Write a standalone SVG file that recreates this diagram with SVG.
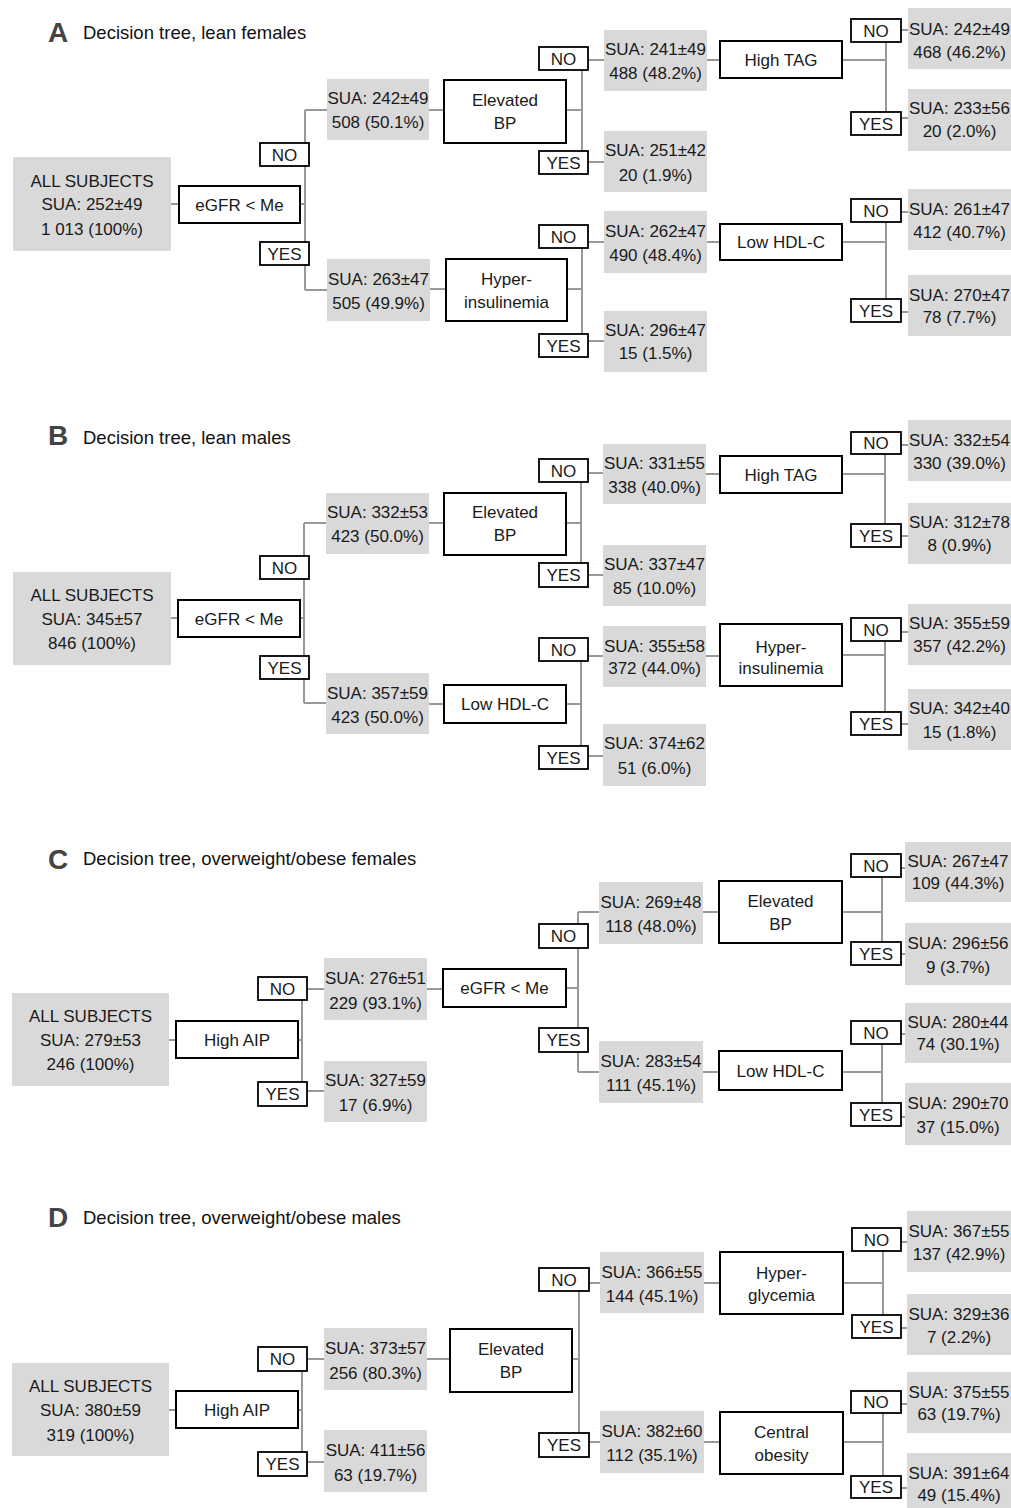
<svg xmlns="http://www.w3.org/2000/svg" width="1011" height="1508" viewBox="0 0 1011 1508">
<style>
.bg{fill:#fff}
.sua{fill:#d9d9d9}
.box{fill:#fff;stroke:#000;stroke-width:2}
.lbl{fill:#fff;stroke:#000;stroke-width:1.8}
.c line{stroke:#999;stroke-width:2;fill:none}
text{font-family:"Liberation Sans",Arial,sans-serif;font-size:17px;fill:#1a1a1a;text-anchor:middle}
.ttl{text-anchor:start;font-size:18.5px;fill:#111}
.let{text-anchor:start;font-size:28px;font-weight:bold;fill:#444}
</style>
<rect class="bg" x="0" y="0" width="1011" height="1508"/>

<!-- connectors -->
<g class="c" id="connectors">
<!-- A -->
<line x1="171" y1="204" x2="179" y2="204"/><line x1="300" y1="204" x2="305" y2="204"/>
<line x1="305" y1="110" x2="305" y2="290"/><line x1="305" y1="110" x2="327" y2="110"/><line x1="305" y1="290" x2="327" y2="290"/>
<line x1="429" y1="110" x2="444" y2="110"/><line x1="566" y1="110" x2="582" y2="110"/>
<line x1="582" y1="60" x2="582" y2="162"/><line x1="582" y1="60" x2="604" y2="60"/><line x1="582" y1="162" x2="604" y2="162"/>
<line x1="707" y1="60" x2="720" y2="60"/><line x1="842" y1="60" x2="886" y2="60"/>
<line x1="886" y1="30" x2="886" y2="118"/><line x1="886" y1="30" x2="908" y2="30"/><line x1="886" y1="118" x2="908" y2="118"/>
<line x1="430" y1="289" x2="446" y2="289"/><line x1="567" y1="289" x2="582" y2="289"/>
<line x1="582" y1="242" x2="582" y2="341"/><line x1="582" y1="242" x2="604" y2="242"/><line x1="582" y1="341" x2="604" y2="341"/>
<line x1="707" y1="242" x2="720" y2="242"/><line x1="842" y1="242" x2="886" y2="242"/>
<line x1="886" y1="212" x2="886" y2="312"/><line x1="886" y1="212" x2="908" y2="212"/><line x1="886" y1="312" x2="908" y2="312"/>
<!-- B -->
<line x1="171" y1="618" x2="178" y2="618"/><line x1="300" y1="618" x2="304" y2="618"/>
<line x1="304" y1="523" x2="304" y2="703"/><line x1="304" y1="523" x2="326" y2="523"/><line x1="304" y1="703" x2="326" y2="703"/>
<line x1="429" y1="523" x2="444" y2="523"/><line x1="566" y1="523" x2="581" y2="523"/>
<line x1="581" y1="473" x2="581" y2="575"/><line x1="581" y1="473" x2="603" y2="473"/><line x1="581" y1="575" x2="603" y2="575"/>
<line x1="706" y1="474" x2="720" y2="474"/><line x1="842" y1="474" x2="885" y2="474"/>
<line x1="885" y1="445" x2="885" y2="536"/><line x1="885" y1="445" x2="908" y2="445"/><line x1="885" y1="536" x2="908" y2="536"/>
<line x1="429" y1="704" x2="444" y2="704"/><line x1="566" y1="704" x2="581" y2="704"/>
<line x1="581" y1="656" x2="581" y2="756"/><line x1="581" y1="656" x2="603" y2="656"/><line x1="581" y1="756" x2="603" y2="756"/>
<line x1="706" y1="656" x2="720" y2="656"/><line x1="842" y1="655" x2="885" y2="655"/>
<line x1="885" y1="632" x2="885" y2="724"/><line x1="885" y1="632" x2="908" y2="632"/><line x1="885" y1="724" x2="908" y2="724"/>
<!-- C -->
<line x1="169" y1="1040" x2="176" y2="1040"/><line x1="298" y1="1040" x2="302" y2="1040"/>
<line x1="302" y1="989" x2="302" y2="1091"/><line x1="302" y1="989" x2="324" y2="989"/><line x1="302" y1="1091" x2="324" y2="1091"/>
<line x1="427" y1="989" x2="443" y2="989"/><line x1="566" y1="988" x2="578" y2="988"/>
<line x1="578" y1="912" x2="578" y2="1072"/><line x1="578" y1="912" x2="599" y2="912"/><line x1="578" y1="1072" x2="599" y2="1072"/>
<line x1="703" y1="912" x2="719" y2="912"/><line x1="703" y1="1072" x2="719" y2="1072"/>
<line x1="842" y1="912" x2="882" y2="912"/><line x1="882" y1="868" x2="882" y2="954"/><line x1="882" y1="868" x2="905" y2="868"/><line x1="882" y1="954" x2="905" y2="954"/>
<line x1="842" y1="1072" x2="882" y2="1072"/><line x1="882" y1="1034" x2="882" y2="1117"/><line x1="882" y1="1034" x2="905" y2="1034"/><line x1="882" y1="1117" x2="905" y2="1117"/>
<!-- D -->
<line x1="169" y1="1410" x2="176" y2="1410"/><line x1="298" y1="1410" x2="302" y2="1410"/>
<line x1="302" y1="1359" x2="302" y2="1462"/><line x1="302" y1="1359" x2="324" y2="1359"/><line x1="302" y1="1462" x2="324" y2="1462"/>
<line x1="427" y1="1359" x2="450" y2="1359"/><line x1="572" y1="1359" x2="579" y2="1359"/>
<line x1="579" y1="1283" x2="579" y2="1442"/><line x1="579" y1="1283" x2="600" y2="1283"/><line x1="579" y1="1442" x2="600" y2="1442"/>
<line x1="704" y1="1283" x2="720" y2="1283"/><line x1="704" y1="1442" x2="720" y2="1442"/>
<line x1="843" y1="1283" x2="883" y2="1283"/><line x1="883" y1="1242" x2="883" y2="1328"/><line x1="883" y1="1242" x2="907" y2="1242"/><line x1="883" y1="1328" x2="907" y2="1328"/>
<line x1="843" y1="1442" x2="883" y2="1442"/><line x1="883" y1="1404" x2="883" y2="1488"/><line x1="883" y1="1404" x2="907" y2="1404"/><line x1="883" y1="1488" x2="907" y2="1488"/>
</g>

<!-- titles -->
<g id="titleA"><text class="let" x="48" y="42">A</text><text class="ttl" x="83" y="39">Decision tree, lean females</text></g>
<g id="titleB"><text class="let" x="48" y="445">B</text><text class="ttl" x="83" y="444">Decision tree, lean males</text></g>
<g id="titleC"><text class="let" x="48" y="869">C</text><text class="ttl" x="83" y="865">Decision tree, overweight/obese females</text></g>
<g id="titleD"><text class="let" x="48" y="1227">D</text><text class="ttl" x="83" y="1224">Decision tree, overweight/obese males</text></g>

<!-- Panel A -->
<g id="A_root"><rect class="sua" x="13" y="157" width="158" height="94"/><text x="92" y="187">ALL SUBJECTS</text><text x="92" y="210">SUA: 252±49</text><text x="92" y="235">1 013 (100%)</text></g>
<g id="A_egfr"><rect class="box" x="179" y="186" width="121" height="37"/><text x="239.5" y="210.5">eGFR &lt; Me</text></g>
<g id="A_no1"><rect class="lbl" x="260" y="143" width="49" height="23"/><text x="284.5" y="160.5">NO</text></g>
<g id="A_yes1"><rect class="lbl" x="260" y="242" width="49" height="23"/><text x="284.5" y="259.5">YES</text></g>
<g id="A_n1"><rect class="sua" x="327" y="79" width="102" height="61"/><text x="378" y="104">SUA: 242±49</text><text x="378" y="128">508 (50.1%)</text></g>
<g id="A_bp"><rect class="box" x="444" y="80" width="122" height="63"/><text x="505" y="106">Elevated</text><text x="505" y="129">BP</text></g>
<g id="A_no2"><rect class="lbl" x="539" y="47" width="49" height="23"/><text x="563.5" y="64.5">NO</text></g>
<g id="A_yes2"><rect class="lbl" x="539" y="151" width="49" height="23"/><text x="563.5" y="168.5">YES</text></g>
<g id="A_n2"><rect class="sua" x="604" y="30" width="103" height="61"/><text x="655.5" y="55">SUA: 241±49</text><text x="655.5" y="79">488 (48.2%)</text></g>
<g id="A_n3"><rect class="sua" x="604" y="131" width="103" height="61"/><text x="655.5" y="156">SUA: 251±42</text><text x="655.5" y="181">20 (1.9%)</text></g>
<g id="A_tag"><rect class="box" x="720" y="41" width="122" height="37"/><text x="781" y="65.5">High TAG</text></g>
<g id="A_no3"><rect class="lbl" x="851" y="19" width="50" height="23"/><text x="876" y="36.5">NO</text></g>
<g id="A_yes3"><rect class="lbl" x="851" y="112" width="50" height="23"/><text x="876" y="129.5">YES</text></g>
<g id="A_n4"><rect class="sua" x="908" y="8" width="103" height="61"/><text x="959.5" y="35">SUA: 242±49</text><text x="959.5" y="58">468 (46.2%)</text></g>
<g id="A_n5"><rect class="sua" x="908" y="89" width="103" height="62"/><text x="959.5" y="114">SUA: 233±56</text><text x="959.5" y="137">20 (2.0%)</text></g>
<g id="A_n6"><rect class="sua" x="327" y="259" width="103" height="62"/><text x="378.5" y="285">SUA: 263±47</text><text x="378.5" y="309">505 (49.9%)</text></g>
<g id="A_hyp"><rect class="box" x="446" y="259" width="121" height="62"/><text x="506.5" y="285">Hyper-</text><text x="506.5" y="308">insulinemia</text></g>
<g id="A_no4"><rect class="lbl" x="539" y="225" width="49" height="23"/><text x="563.5" y="242.5">NO</text></g>
<g id="A_yes4"><rect class="lbl" x="539" y="334" width="49" height="23"/><text x="563.5" y="351.5">YES</text></g>
<g id="A_n7"><rect class="sua" x="604" y="211" width="103" height="62"/><text x="655.5" y="237">SUA: 262±47</text><text x="655.5" y="261">490 (48.4%)</text></g>
<g id="A_n8"><rect class="sua" x="604" y="311" width="103" height="61"/><text x="655.5" y="336">SUA: 296±47</text><text x="655.5" y="359">15 (1.5%)</text></g>
<g id="A_hdl"><rect class="box" x="720" y="224" width="122" height="36"/><text x="781" y="248">Low HDL-C</text></g>
<g id="A_no5"><rect class="lbl" x="851" y="199" width="50" height="23"/><text x="876" y="216.5">NO</text></g>
<g id="A_yes5"><rect class="lbl" x="851" y="299" width="50" height="23"/><text x="876" y="316.5">YES</text></g>
<g id="A_n9"><rect class="sua" x="908" y="189" width="103" height="61"/><text x="959.5" y="215">SUA: 261±47</text><text x="959.5" y="238">412 (40.7%)</text></g>
<g id="A_n10"><rect class="sua" x="908" y="275" width="103" height="61"/><text x="959.5" y="301">SUA: 270±47</text><text x="959.5" y="323">78 (7.7%)</text></g>

<!-- Panel B -->
<g id="B_root"><rect class="sua" x="13" y="572" width="158" height="93"/><text x="92" y="601">ALL SUBJECTS</text><text x="92" y="625">SUA: 345±57</text><text x="92" y="649">846 (100%)</text></g>
<g id="B_egfr"><rect class="box" x="178" y="600" width="122" height="37"/><text x="239" y="624.5">eGFR &lt; Me</text></g>
<g id="B_no1"><rect class="lbl" x="260" y="556" width="49" height="23"/><text x="284.5" y="573.5">NO</text></g>
<g id="B_yes1"><rect class="lbl" x="260" y="656" width="49" height="23"/><text x="284.5" y="673.5">YES</text></g>
<g id="B_n1"><rect class="sua" x="326" y="493" width="103" height="61"/><text x="377.5" y="518">SUA: 332±53</text><text x="377.5" y="542">423 (50.0%)</text></g>
<g id="B_bp"><rect class="box" x="444" y="493" width="122" height="62"/><text x="505" y="518">Elevated</text><text x="505" y="541">BP</text></g>
<g id="B_no2"><rect class="lbl" x="539" y="459" width="49" height="23"/><text x="563.5" y="476.5">NO</text></g>
<g id="B_yes2"><rect class="lbl" x="539" y="563" width="49" height="24"/><text x="563.5" y="581">YES</text></g>
<g id="B_n2"><rect class="sua" x="603" y="444" width="103" height="60"/><text x="654.5" y="469">SUA: 331±55</text><text x="654.5" y="493">338 (40.0%)</text></g>
<g id="B_n3"><rect class="sua" x="603" y="545" width="103" height="61"/><text x="654.5" y="570">SUA: 337±47</text><text x="654.5" y="594">85 (10.0%)</text></g>
<g id="B_tag"><rect class="box" x="720" y="456" width="122" height="37"/><text x="781" y="480.5">High TAG</text></g>
<g id="B_no3"><rect class="lbl" x="851" y="432" width="50" height="22"/><text x="876" y="449">NO</text></g>
<g id="B_yes3"><rect class="lbl" x="851" y="524" width="50" height="23"/><text x="876" y="541.5">YES</text></g>
<g id="B_n4"><rect class="sua" x="908" y="420" width="103" height="61"/><text x="959.5" y="446">SUA: 332±54</text><text x="959.5" y="469">330 (39.0%)</text></g>
<g id="B_n5"><rect class="sua" x="908" y="503" width="103" height="61"/><text x="959.5" y="528">SUA: 312±78</text><text x="959.5" y="551">8 (0.9%)</text></g>
<g id="B_n6"><rect class="sua" x="326" y="673" width="103" height="61"/><text x="377.5" y="699">SUA: 357±59</text><text x="377.5" y="723">423 (50.0%)</text></g>
<g id="B_hdl"><rect class="box" x="444" y="685" width="122" height="38"/><text x="505" y="710">Low HDL-C</text></g>
<g id="B_no4"><rect class="lbl" x="539" y="638" width="49" height="23"/><text x="563.5" y="655.5">NO</text></g>
<g id="B_yes4"><rect class="lbl" x="539" y="746" width="49" height="23"/><text x="563.5" y="763.5">YES</text></g>
<g id="B_n7"><rect class="sua" x="603" y="626" width="103" height="61"/><text x="654.5" y="652">SUA: 355±58</text><text x="654.5" y="674">372 (44.0%)</text></g>
<g id="B_n8"><rect class="sua" x="603" y="724" width="103" height="62"/><text x="654.5" y="749">SUA: 374±62</text><text x="654.5" y="774">51 (6.0%)</text></g>
<g id="B_hyp"><rect class="box" x="720" y="624" width="122" height="62"/><text x="781" y="653">Hyper-</text><text x="781" y="674">insulinemia</text></g>
<g id="B_no5"><rect class="lbl" x="851" y="618" width="50" height="23"/><text x="876" y="635.5">NO</text></g>
<g id="B_yes5"><rect class="lbl" x="851" y="712" width="50" height="23"/><text x="876" y="729.5">YES</text></g>
<g id="B_n9"><rect class="sua" x="908" y="604" width="103" height="61"/><text x="959.5" y="629">SUA: 355±59</text><text x="959.5" y="652">357 (42.2%)</text></g>
<g id="B_n10"><rect class="sua" x="908" y="689" width="103" height="61"/><text x="959.5" y="714">SUA: 342±40</text><text x="959.5" y="738">15 (1.8%)</text></g>

<!-- Panel C -->
<g id="C_root"><rect class="sua" x="12" y="993" width="157" height="93"/><text x="90.5" y="1022">ALL SUBJECTS</text><text x="90.5" y="1046">SUA: 279±53</text><text x="90.5" y="1070">246 (100%)</text></g>
<g id="C_aip"><rect class="box" x="176" y="1021" width="122" height="37"/><text x="237" y="1045.5">High AIP</text></g>
<g id="C_no1"><rect class="lbl" x="258" y="977" width="49" height="23"/><text x="282.5" y="994.5">NO</text></g>
<g id="C_yes1"><rect class="lbl" x="258" y="1082" width="49" height="24"/><text x="282.5" y="1100">YES</text></g>
<g id="C_n1"><rect class="sua" x="324" y="958" width="103" height="62"/><text x="375.5" y="984">SUA: 276±51</text><text x="375.5" y="1009">229 (93.1%)</text></g>
<g id="C_n2"><rect class="sua" x="324" y="1061" width="103" height="61"/><text x="375.5" y="1086">SUA: 327±59</text><text x="375.5" y="1111">17 (6.9%)</text></g>
<g id="C_egfr"><rect class="box" x="443" y="969" width="123" height="38"/><text x="504.5" y="994">eGFR &lt; Me</text></g>
<g id="C_no2"><rect class="lbl" x="539" y="924" width="49" height="24"/><text x="563.5" y="942">NO</text></g>
<g id="C_yes2"><rect class="lbl" x="539" y="1028" width="49" height="24"/><text x="563.5" y="1046">YES</text></g>
<g id="C_n3"><rect class="sua" x="599" y="882" width="104" height="62"/><text x="651" y="908">SUA: 269±48</text><text x="651" y="932">118 (48.0%)</text></g>
<g id="C_n4"><rect class="sua" x="599" y="1041" width="104" height="62"/><text x="651" y="1067">SUA: 283±54</text><text x="651" y="1091">111 (45.1%)</text></g>
<g id="C_bp"><rect class="box" x="719" y="881" width="123" height="62"/><text x="780.5" y="907">Elevated</text><text x="780.5" y="930">BP</text></g>
<g id="C_hdl"><rect class="box" x="719" y="1051" width="123" height="39"/><text x="780.5" y="1077">Low HDL-C</text></g>
<g id="C_no3"><rect class="lbl" x="851" y="854" width="50" height="23"/><text x="876" y="871.5">NO</text></g>
<g id="C_yes3"><rect class="lbl" x="851" y="942" width="50" height="23"/><text x="876" y="959.5">YES</text></g>
<g id="C_n5"><rect class="sua" x="905" y="842" width="106" height="60"/><text x="958" y="867">SUA: 267±47</text><text x="958" y="889">109 (44.3%)</text></g>
<g id="C_n6"><rect class="sua" x="905" y="923" width="106" height="62"/><text x="958" y="949">SUA: 296±56</text><text x="958" y="973">9 (3.7%)</text></g>
<g id="C_no4"><rect class="lbl" x="851" y="1021" width="50" height="23"/><text x="876" y="1038.5">NO</text></g>
<g id="C_yes4"><rect class="lbl" x="851" y="1103" width="50" height="23"/><text x="876" y="1120.5">YES</text></g>
<g id="C_n7"><rect class="sua" x="905" y="1003" width="106" height="60"/><text x="958" y="1028">SUA: 280±44</text><text x="958" y="1050">74 (30.1%)</text></g>
<g id="C_n8"><rect class="sua" x="905" y="1083" width="106" height="62"/><text x="958" y="1109">SUA: 290±70</text><text x="958" y="1133">37 (15.0%)</text></g>

<!-- Panel D -->
<g id="D_root"><rect class="sua" x="12" y="1363" width="157" height="93"/><text x="90.5" y="1392">ALL SUBJECTS</text><text x="90.5" y="1416">SUA: 380±59</text><text x="90.5" y="1441">319 (100%)</text></g>
<g id="D_aip"><rect class="box" x="176" y="1391" width="122" height="37"/><text x="237" y="1415.5">High AIP</text></g>
<g id="D_no1"><rect class="lbl" x="258" y="1347" width="49" height="24"/><text x="282.5" y="1365">NO</text></g>
<g id="D_yes1"><rect class="lbl" x="258" y="1452" width="49" height="24"/><text x="282.5" y="1470">YES</text></g>
<g id="D_n1"><rect class="sua" x="324" y="1328" width="103" height="62"/><text x="375.5" y="1354">SUA: 373±57</text><text x="375.5" y="1379">256 (80.3%)</text></g>
<g id="D_n2"><rect class="sua" x="324" y="1430" width="103" height="62"/><text x="375.5" y="1456">SUA: 411±56</text><text x="375.5" y="1481">63 (19.7%)</text></g>
<g id="D_bp"><rect class="box" x="450" y="1329" width="122" height="63"/><text x="511" y="1355">Elevated</text><text x="511" y="1378">BP</text></g>
<g id="D_no2"><rect class="lbl" x="539" y="1268" width="50" height="23"/><text x="564" y="1285.5">NO</text></g>
<g id="D_yes2"><rect class="lbl" x="539" y="1433" width="50" height="24"/><text x="564" y="1451">YES</text></g>
<g id="D_n3"><rect class="sua" x="600" y="1252" width="104" height="61"/><text x="652" y="1278">SUA: 366±55</text><text x="652" y="1302">144 (45.1%)</text></g>
<g id="D_n4"><rect class="sua" x="600" y="1411" width="104" height="62"/><text x="652" y="1437">SUA: 382±60</text><text x="652" y="1461">112 (35.1%)</text></g>
<g id="D_hyg"><rect class="box" x="720" y="1252" width="123" height="62"/><text x="781.5" y="1279">Hyper-</text><text x="781.5" y="1301">glycemia</text></g>
<g id="D_cob"><rect class="box" x="720" y="1412" width="123" height="62"/><text x="781.5" y="1438">Central</text><text x="781.5" y="1461">obesity</text></g>
<g id="D_no3"><rect class="lbl" x="852" y="1228" width="49" height="23"/><text x="876.5" y="1245.5">NO</text></g>
<g id="D_yes3"><rect class="lbl" x="852" y="1315" width="49" height="23"/><text x="876.5" y="1332.5">YES</text></g>
<g id="D_n5"><rect class="sua" x="907" y="1211" width="104" height="61"/><text x="959" y="1237">SUA: 367±55</text><text x="959" y="1260">137 (42.9%)</text></g>
<g id="D_n6"><rect class="sua" x="907" y="1294" width="104" height="61"/><text x="959" y="1320">SUA: 329±36</text><text x="959" y="1343">7 (2.2%)</text></g>
<g id="D_no4"><rect class="lbl" x="851" y="1391" width="50" height="22"/><text x="876" y="1408">NO</text></g>
<g id="D_yes4"><rect class="lbl" x="851" y="1476" width="50" height="22"/><text x="876" y="1493">YES</text></g>
<g id="D_n7"><rect class="sua" x="907" y="1372" width="104" height="61"/><text x="959" y="1398">SUA: 375±55</text><text x="959" y="1420">63 (19.7%)</text></g>
<g id="D_n8"><rect class="sua" x="907" y="1453" width="104" height="55"/><text x="959" y="1479">SUA: 391±64</text><text x="959" y="1501">49 (15.4%)</text></g>
</svg>
